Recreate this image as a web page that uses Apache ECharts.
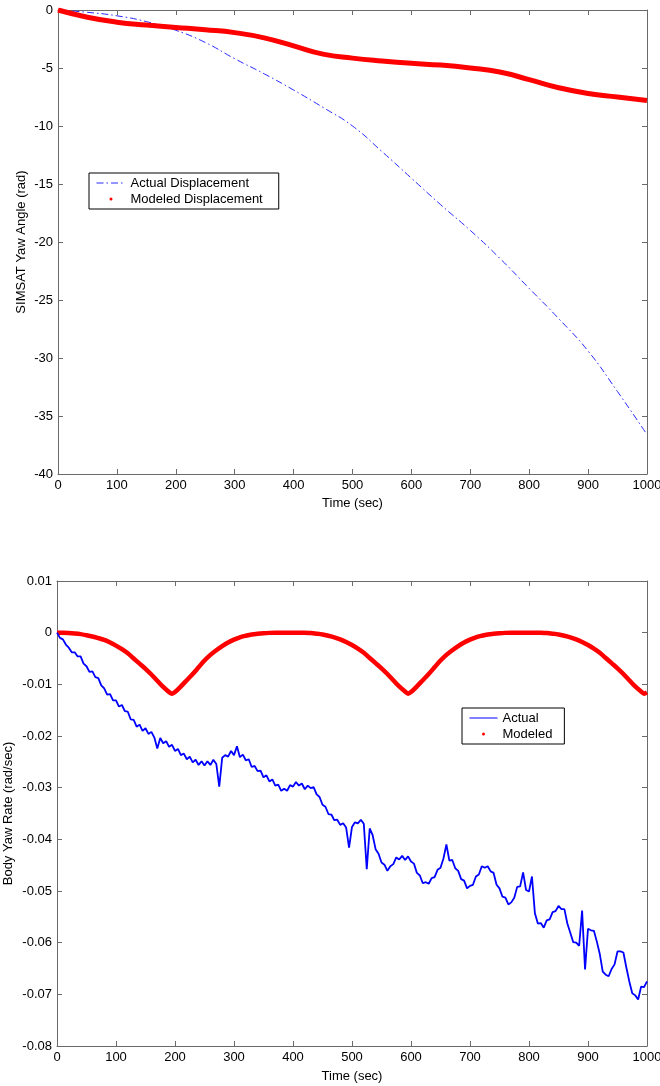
<!DOCTYPE html>
<html>
<head>
<meta charset="utf-8">
<script src="https://cdn.jsdelivr.net/npm/echarts@6/dist/echarts.min.js"></script>
<style>
html,body{margin:0;padding:0;background:#fff;}
#chart{width:660px;height:1086px;}
</style>
</head>
<body>
<div id="chart"></div>
<script>
// ---------- Top chart data: SIMSAT yaw angle (rad) ----------
const yawTime = [0,50,100,150,200,250,300,350,400,450,500,550,600,650,700,750,800,850,900,950,1000];
const yawActual = [0,-0.2,-0.5,-1.0,-1.75,-2.8,-4.2,-5.5,-6.9,-8.4,-10.0,-12.2,-14.5,-16.8,-19.0,-21.4,-24.0,-26.6,-29.4,-32.9,-36.6];
const yawModeled = [0,-0.62,-1.05,-1.3,-1.5,-1.7,-1.95,-2.4,-3.1,-3.8,-4.15,-4.4,-4.6,-4.75,-5.0,-5.35,-6.0,-6.7,-7.2,-7.5,-7.8];

// ---------- Bottom chart data: body yaw rate (rad/sec) ----------
const rateTime = [0,5,10,15,20,25,30,35,40,45,50,55,60,65,70,75,80,85,90,95,
100,105,110,115,120,125,130,135,140,145,150,155,160,165,170,175,180,185,190,195,
200,205,210,215,220,225,230,235,240,245,250,255,260,265,270,275,280,285,290,295,
300,305,310,315,320,325,330,335,340,345,350,355,360,365,370,375,380,385,390,395,
400,405,410,415,420,425,430,435,440,445,450,455,460,465,470,475,480,485,490,495,
500,505,510,515,520,525,530,535,540,545,550,555,560,565,570,575,580,585,590,595,
600,605,610,615,620,625,630,635,640,645,650,655,660,665,670,675,680,685,690,695,
700,705,710,715,720,725,730,735,740,745,750,755,760,765,770,775,780,785,790,795,
800,805,810,815,820,825,830,835,840,845,850,855,860,865,870,875,880,885,890,895,
900,905,910,915,920,925,930,935,940,945,950,955,960,965,970,975,980,985,990,995,1000];
const rateActual = [0,-.0010,-.0013,-.0023,-.0029,-.0038,-.0038,-.0046,-.0046,-.0060,
-.0065,-.0076,-.0075,-.0086,-.0088,-.0102,-.0108,-.0120,-.0119,-.0131,
-.0131,-.0143,-.0140,-.0152,-.0153,-.0168,-.0169,-.0182,-.0178,-.0190,
-.0185,-.0196,-.0192,-.0203,-.0224,-.0204,-.0214,-.0210,-.0221,-.0217,
-.0229,-.0225,-.0237,-.0234,-.0245,-.0240,-.0251,-.0246,-.0256,-.0249,
-.0257,-.0249,-.0256,-.0246,-.0254,-.0298,-.0242,-.0237,-.0240,-.0229,
-.0237,-.0220,-.0241,-.0236,-.0247,-.0245,-.0260,-.0258,-.0268,-.0267,
-.0280,-.0276,-.0288,-.0284,-.0296,-.0294,-.0306,-.0302,-.0306,-.0295,
-.0298,-.0289,-.0296,-.0292,-.0303,-.0296,-.0301,-.0299,-.0313,-.0318,
-.0333,-.0337,-.0351,-.0352,-.0363,-.0362,-.0372,-.0369,-.0377,-.0416,
-.0376,-.0367,-.0369,-.0362,-.0370,-.0458,-.0379,-.0392,-.0419,-.0428,
-.0445,-.0449,-.0461,-.0452,-.0448,-.0435,-.0439,-.0432,-.0440,-.0433,
-.0443,-.0447,-.0465,-.0470,-.0485,-.0483,-.0486,-.0475,-.0473,-.0459,
-.0455,-.0437,-.0410,-.0441,-.0440,-.0456,-.0461,-.0477,-.0480,-.0495,
-.0490,-.0488,-.0472,-.0468,-.0452,-.0455,-.0452,-.0462,-.0465,-.0488,
-.0495,-.0511,-.0513,-.0526,-.0522,-.0513,-.0492,-.0491,-.0464,-.0498,
-.0501,-.0472,-.0543,-.0563,-.0562,-.0571,-.0557,-.0555,-.0541,-.0539,
-.0529,-.0535,-.0535,-.0563,-.0581,-.0599,-.0600,-.0606,-.0538,-.0652,
-.0573,-.0576,-.0577,-.0598,-.0622,-.0656,-.0662,-.0665,-.0651,-.0642,
-.0617,-.0617,-.0619,-.0648,-.0675,-.0698,-.0702,-.0710,-.0685,-.0686,-.0675];

const modelTime = [0,10,20,30,40,50,60,70,80,90,100,110,120,130,140,150,160,170,180,190,195,
200,210,220,230,240,250,260,270,280,290,300,310,320,330,340,350,360,370,380,390,400,
410,420,430,440,450,460,470,480,490,500,510,520,530,540,550,560,570,580,590,595,
600,610,620,630,640,650,660,670,680,690,700,710,720,730,740,750,760,770,780,790,800,
810,820,830,840,850,860,870,880,890,900,910,920,930,940,950,960,970,980,990,995,1000];
const rateModeled = [0,-.00002,-.00006,-.00015,-.00028,-.0005,-.00075,-.00105,-.0014,-.0019,-.0025,-.0032,-.0040,-.0050,-.0060,-.0070,-.0081,-.0093,-.0105,-.0115,-.0118,
-.0115,-.0104,-.0092,-.0080,-.0067,-.0054,-.0043,-.0034,-.0026,-.0019,-.00135,-.0009,-.0006,-.00035,-.0002,-.0001,-.00004,-.00001,0,0,0,
-.00001,-.00003,-.00008,-.0002,-.00035,-.0006,-.0009,-.0013,-.0018,-.0024,-.0031,-.0039,-.0049,-.0059,-.0069,-.0080,-.0092,-.0104,-.0114,-.0118,
-.0115,-.0104,-.0092,-.0080,-.0067,-.0054,-.0043,-.0034,-.0026,-.0019,-.00135,-.0009,-.0006,-.00035,-.0002,-.0001,-.00004,-.00001,0,0,0,
-.00001,-.00003,-.00008,-.0002,-.00035,-.0006,-.0009,-.0013,-.0018,-.0024,-.0031,-.0039,-.0049,-.0059,-.0069,-.0080,-.0092,-.0104,-.0114,-.0118,-.0116];

// ---------- Axis ticks ----------
const timeTicks = {min:0, max:1000, interval:100};
const yawTicks = {min:-40, max:0, interval:5};
const rateTicks = {min:-0.08, max:0.01, interval:0.01};

function pairs(xs, ys){ return xs.map((x,i)=>[x, ys[i]]); }

const FONT = 'Liberation Sans, Arial, sans-serif';
const AX = '#6a6a6a';
function axisBase(showLabel, fmt){
  return {
    axisLine:{show:true, onZero:false, lineStyle:{color:AX, width:1}},
    axisTick:{show:true, inside:true, length:5, lineStyle:{color:AX, width:1}},
    axisLabel:{show:showLabel, color:'#000', fontSize:13, fontFamily:FONT, margin:5,
      formatter: fmt || (v => String(v))},
    splitLine:{show:false}
  };
}
function fmtRate(v){ const r = Math.round(v*100)/100; return String(r === 0 ? 0 : r); }
const nameStyle = {color:'#000', fontSize:13, fontFamily:FONT};

const chart = echarts.init(document.getElementById('chart'), null, {renderer:'canvas'});
chart.setOption({
  animation:false,
  backgroundColor:'#fff',
  textStyle:{fontFamily:FONT},
  grid:[
    {left:58, top:10, width:589, height:464, containLabel:false, outerBoundsMode:'none'},
    {left:57, top:581, width:590, height:465, containLabel:false, outerBoundsMode:'none'}
  ],
  xAxis:[
    Object.assign({type:'value', gridIndex:0, position:'bottom', ...timeTicks,
      name:'Time (sec)', nameLocation:'middle', nameGap:23, nameTextStyle:nameStyle}, axisBase(true)),
    Object.assign({type:'value', gridIndex:0, position:'top', ...timeTicks}, axisBase(false)),
    Object.assign({type:'value', gridIndex:1, position:'bottom', ...timeTicks,
      name:'Time (sec)', nameLocation:'middle', nameGap:24, nameTextStyle:nameStyle}, axisBase(true)),
    Object.assign({type:'value', gridIndex:1, position:'top', ...timeTicks}, axisBase(false))
  ],
  yAxis:[
    Object.assign({type:'value', gridIndex:0, position:'left', ...yawTicks,
      name:'SIMSAT Yaw Angle (rad)', nameLocation:'middle', nameGap:30, nameRotate:90,
      nameMoveOverlap:false, nameTextStyle:nameStyle}, axisBase(true)),
    Object.assign({type:'value', gridIndex:0, position:'right', ...yawTicks}, axisBase(false)),
    Object.assign({type:'value', gridIndex:1, position:'left', ...rateTicks,
      name:'Body Yaw Rate (rad/sec)', nameLocation:'middle', nameGap:42, nameRotate:90,
      nameMoveOverlap:false, nameTextStyle:nameStyle}, axisBase(true, fmtRate)),
    Object.assign({type:'value', gridIndex:1, position:'right', ...rateTicks}, axisBase(false))
  ],
  legend:[
    {orient:'vertical', left:89, top:173, padding:[2,16,2,7], itemGap:0,
     itemWidth:29, itemHeight:3, backgroundColor:'#fff', borderColor:'#000', borderWidth:1, borderRadius:0,
     lineStyle:{width:1},
     textStyle:{color:'#000', fontSize:13, fontFamily:FONT, lineHeight:16},
     data:[{name:'Actual Displacement', itemStyle:{opacity:0}}, {name:'Modeled Displacement', icon:'circle'}]},
    {orient:'vertical', left:462, top:708, padding:[2,12,2,7], itemGap:0,
     itemWidth:28, itemHeight:3, backgroundColor:'#fff', borderColor:'#000', borderWidth:1, borderRadius:0,
     lineStyle:{width:1},
     textStyle:{color:'#000', fontSize:13, fontFamily:FONT, lineHeight:16},
     data:[{name:'Actual', itemStyle:{opacity:0}}, {name:'Modeled', icon:'circle'}]}
  ],
  series:[
    {name:'Actual Displacement', type:'line', xAxisIndex:0, yAxisIndex:0, smooth:true, symbol:'none',
     data:pairs(yawTime, yawActual), color:'#0000ff',
     lineStyle:{color:'#2a2aff', width:1, type:[7,3,1.5,3]}},
    {name:'Modeled Displacement', type:'line', xAxisIndex:0, yAxisIndex:0, smooth:true, symbol:'none',
     data:pairs(yawTime, yawModeled), color:'#ff0000',
     lineStyle:{color:'#ff0000', width:5}},
    {name:'Modeled', type:'line', xAxisIndex:2, yAxisIndex:2, smooth:0.3, symbol:'none',
     data:pairs(modelTime, rateModeled), color:'#ff0000',
     lineStyle:{color:'#ff0000', width:4.5}},
    {name:'Actual', type:'line', xAxisIndex:2, yAxisIndex:2, symbol:'none',
     data:pairs(rateTime, rateActual), color:'#0000ff',
     lineStyle:{color:'#0000ff', width:1.8}}
  ]
});
</script>
</body>
</html>
